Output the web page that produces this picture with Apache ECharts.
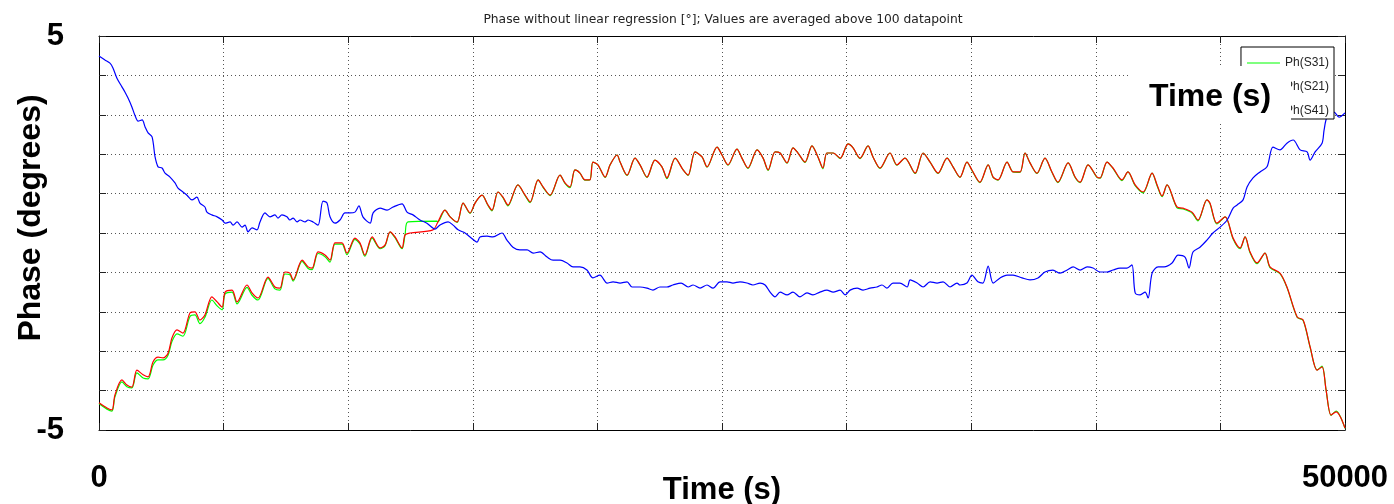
<!DOCTYPE html>
<html>
<head>
<meta charset="utf-8">
<title>Phase without linear regression</title>
<script src="https://cdn.jsdelivr.net/npm/echarts@6/dist/echarts.min.js"></script>
<style>
  html, body { margin: 0; padding: 0; background: #fff; }
  #chart { width: 1394px; height: 504px; }
</style>
</head>
<body>
<div id="chart"></div>
<script>
// Averaged phase traces (degrees) against time (seconds)
const timeS31 = [0,320,520,640,920,1120,1320,1520,1770,1970,2170,2370,2570,2770,2930,3130,3370,3650,3850,4050,4250,4530,4740,4940,5060,5340,5540,5940,6140,6380,6780,7060,7260,7460,7660,7790,8150,8390,8550,8790,9070,9270,9470,9750,9950,10270,10470,10670,10960,11280,11480,11680,11880,12160,12280,12400,13560,13600,13880,14090,14370,14610,14890,15090,15370,15610,15770,16010,16210,16410,16810,17100,17300,17620,17820,18100,18500,18700,18900,19100,19300,19500,19700,19820,20020,20310,20510,20790,20910,21190,21510,21710,21990,22310,22590,22790,23120,23440,23640,23920,24200,24400,24800,25000,25240,25600,25800,26040,26410,26650,26850,27130,27330,27610,27850,28050,28330,28610,28850,29050,29210,29460,29740,30060,30260,30540,30860,31060,31340,31740,32020,32340,32750,33070,33350,33670,34030,34270,34550,34830,35030,35350,35680,35880,36080,36440,36680,36960,37160,37360,37640,37960,38240,38480,38890,39170,39370,39690,40050,40170,40450,40690,41050,41290,41580,41900,42260,42460,42660,42860,43260,43500,43860,44100,44460,44580,44860,45190,45510,45790,45990,46190,46470,46790,46990,47390,47670,48080,48320,48600,48880,49080,49240,49440,49640,50000];
const phaseS31 = [-4.33,-4.47,-4.52,-4.16,-3.78,-3.90,-3.93,-3.55,-3.68,-3.70,-3.35,-3.22,-3.22,-3.10,-2.75,-2.56,-2.62,-2.12,-2.08,-2.30,-2.14,-1.70,-1.85,-1.95,-1.55,-1.50,-1.80,-1.38,-1.58,-1.70,-1.15,-1.42,-1.45,-1.04,-1.06,-1.22,-0.72,-0.90,-0.93,-0.52,-0.60,-0.74,-0.28,-0.28,-0.55,-0.16,-0.28,-0.59,-0.13,-0.40,-0.32,0.02,-0.12,-0.40,-0.05,0.28,0.30,0.28,0.58,0.41,0.27,0.76,0.50,0.76,0.96,0.70,0.56,1.04,0.90,0.69,1.22,0.95,0.77,1.35,1.16,0.95,1.47,1.26,1.15,1.60,1.52,1.34,1.35,1.80,1.73,1.41,1.73,1.98,1.80,1.46,1.90,1.73,1.41,1.85,1.68,1.38,1.90,1.60,1.46,2.06,1.93,1.67,2.18,1.98,1.72,2.13,1.90,1.64,2.11,1.90,1.59,2.06,2.03,1.77,2.16,2.03,1.79,2.21,1.93,1.63,2.03,2.03,1.89,2.26,2.16,1.89,2.21,1.93,1.64,2.03,1.72,1.90,1.51,2.03,1.80,1.51,1.90,1.68,1.41,1.80,1.59,1.28,1.73,1.41,1.34,1.80,1.55,1.54,2.03,1.78,1.51,1.90,1.54,1.28,1.78,1.41,1.28,1.73,1.41,1.39,1.80,1.64,1.33,1.55,1.20,1.02,1.52,1.20,0.92,1.22,0.64,0.61,0.51,0.31,0.84,0.75,0.23,0.41,-0.15,-0.40,-0.10,-0.50,-0.78,-0.51,-0.88,-1.03,-1.38,-2.14,-2.22,-2.90,-3.48,-3.38,-3.98,-4.63,-4.52,-4.96];

const timeS21 = [0,320,520,640,920,1120,1320,1520,1770,1970,2170,2370,2570,2770,2930,3130,3370,3650,3850,4050,4250,4530,4740,4940,5060,5340,5540,5940,6140,6380,6780,7060,7260,7460,7660,7790,8150,8390,8550,8790,9070,9270,9470,9750,9950,10270,10470,10670,10960,11280,11480,11680,11880,12160,12280,12480,13400,13600,13880,14090,14370,14610,14890,15090,15370,15610,15770,16010,16210,16410,16810,17100,17300,17620,17820,18100,18500,18700,18900,19100,19300,19500,19700,19820,20020,20310,20510,20790,20910,21190,21510,21710,21990,22310,22590,22790,23120,23440,23640,23920,24200,24400,24800,25000,25240,25600,25800,26040,26410,26650,26850,27130,27330,27610,27850,28050,28330,28610,28850,29050,29210,29460,29740,30060,30260,30540,30860,31060,31340,31740,32020,32340,32750,33070,33350,33670,34030,34270,34550,34830,35030,35350,35680,35880,36080,36440,36680,36960,37160,37360,37640,37960,38240,38480,38890,39170,39370,39690,40050,40170,40450,40690,41050,41290,41580,41900,42260,42460,42660,42860,43260,43500,43860,44100,44460,44580,44860,45190,45510,45790,45990,46190,46470,46790,46990,47390,47670,48080,48320,48600,48880,49080,49240,49440,49640,50000];
const phaseS21 = [-4.31,-4.44,-4.49,-4.11,-3.73,-3.86,-3.91,-3.48,-3.60,-3.65,-3.27,-3.15,-3.17,-3.05,-2.66,-2.46,-2.54,-2.03,-2.00,-2.21,-2.08,-1.62,-1.75,-1.88,-1.50,-1.45,-1.75,-1.32,-1.52,-1.65,-1.12,-1.37,-1.40,-0.99,-1.02,-1.19,-0.69,-0.86,-0.89,-0.48,-0.56,-0.69,-0.25,-0.25,-0.51,-0.13,-0.25,-0.56,-0.10,-0.38,-0.30,0.03,-0.10,-0.38,-0.05,0.00,0.08,0.28,0.58,0.41,0.28,0.76,0.51,0.76,0.96,0.71,0.58,1.04,0.91,0.71,1.22,0.96,0.79,1.35,1.17,0.96,1.47,1.27,1.17,1.60,1.52,1.35,1.35,1.80,1.73,1.42,1.73,1.98,1.80,1.47,1.90,1.73,1.42,1.85,1.68,1.40,1.90,1.60,1.47,2.06,1.93,1.68,2.18,1.98,1.73,2.13,1.90,1.65,2.11,1.90,1.60,2.06,2.03,1.78,2.16,2.03,1.80,2.21,1.93,1.65,2.03,2.03,1.90,2.26,2.16,1.90,2.21,1.93,1.65,2.03,1.73,1.90,1.52,2.03,1.80,1.52,1.90,1.68,1.42,1.80,1.60,1.29,1.73,1.42,1.35,1.80,1.55,1.55,2.03,1.78,1.52,1.90,1.55,1.29,1.78,1.42,1.29,1.73,1.42,1.40,1.80,1.65,1.35,1.55,1.22,1.04,1.52,1.22,0.94,1.22,0.66,0.63,0.53,0.33,0.84,0.76,0.25,0.41,-0.13,-0.38,-0.10,-0.48,-0.76,-0.51,-0.86,-1.02,-1.37,-2.13,-2.21,-2.89,-3.48,-3.40,-3.98,-4.62,-4.54,-4.95];

const timeS41 = [0,240,440,560,720,920,1040,1160,1320,1440,1570,1730,1850,1970,2130,2250,2370,2530,2650,2850,3050,3170,3370,3530,3730,3930,4050,4250,4330,4530,4740,4940,5060,5260,5380,5540,5740,5860,5980,6140,6340,6460,6660,6860,7060,7180,7340,7540,7660,7790,7950,8070,8270,8390,8590,8790,8990,9150,9270,9470,9670,9870,10070,10270,10430,10590,10880,11000,11280,11560,11800,12160,12360,12600,12880,13160,13480,13680,14010,14210,14410,14690,14890,15170,15290,15570,15810,16170,16370,16610,16890,17180,17420,17700,17980,18220,18500,18780,19020,19300,19580,19820,20100,20390,20630,20910,21190,21390,21710,21990,22230,22510,22790,23030,23360,23640,23840,24120,24400,24640,24920,25200,25440,25720,26000,26240,26530,26730,26930,27130,27330,27610,27850,28130,28410,28650,28930,29210,29460,29740,29940,30140,30420,30660,30940,31220,31420,31620,31860,32140,32430,32550,32830,33070,33350,33630,33870,34150,34430,34550,34830,35030,35270,35470,35680,35880,36160,36440,36680,37040,37360,37680,37960,38280,38560,38850,39090,39370,39650,39890,40170,40450,40690,40970,41250,41450,41580,41780,41980,42100,42260,42500,42740,43060,43300,43580,43740,43900,44180,44460,44700,44990,45270,45510,45670,45910,46070,46310,46590,46870,47110,47390,47670,47920,48200,48480,48600,48800,49080,49160,49280,49560,49760,50000];
const phaseS41 = [4.49,4.39,4.31,4.19,3.93,3.71,3.58,3.43,3.20,2.99,2.84,2.87,2.69,2.54,2.44,1.93,1.68,1.65,1.52,1.42,1.27,1.14,1.04,0.96,0.84,0.91,0.76,0.66,0.53,0.46,0.41,0.33,0.25,0.28,0.20,0.28,0.15,0.20,0.03,0.13,0.08,0.28,0.51,0.41,0.46,0.38,0.46,0.41,0.33,0.38,0.28,0.33,0.28,0.33,0.28,0.20,0.81,0.76,0.41,0.25,0.33,0.51,0.51,0.53,0.69,0.41,0.25,0.51,0.63,0.58,0.66,0.74,0.53,0.46,0.33,0.25,0.10,0.20,0.28,0.20,0.08,0.00,-0.10,-0.23,-0.10,-0.08,-0.10,0.00,-0.18,-0.36,-0.43,-0.43,-0.51,-0.48,-0.61,-0.69,-0.69,-0.76,-0.86,-0.86,-0.94,-1.14,-1.07,-1.27,-1.24,-1.27,-1.24,-1.37,-1.37,-1.40,-1.45,-1.37,-1.37,-1.32,-1.27,-1.37,-1.32,-1.40,-1.32,-1.40,-1.24,-1.24,-1.27,-1.24,-1.27,-1.32,-1.27,-1.32,-1.50,-1.62,-1.50,-1.57,-1.50,-1.62,-1.52,-1.57,-1.50,-1.45,-1.50,-1.45,-1.57,-1.45,-1.40,-1.45,-1.40,-1.37,-1.32,-1.40,-1.27,-1.27,-1.37,-1.19,-1.27,-1.37,-1.24,-1.27,-1.24,-1.37,-1.27,-1.32,-1.27,-1.07,-1.24,-1.27,-0.84,-1.27,-1.14,-1.07,-1.07,-1.14,-1.19,-1.14,-0.99,-0.94,-1.02,-0.94,-0.86,-0.94,-0.86,-0.89,-0.99,-0.99,-0.94,-0.89,-0.89,-0.81,-1.52,-1.57,-1.50,-1.65,-1.02,-0.86,-0.86,-0.76,-0.56,-0.61,-0.89,-0.48,-0.36,-0.18,0.00,0.15,0.33,0.63,0.71,0.84,1.17,1.40,1.55,1.68,2.18,2.11,2.28,2.36,2.11,2.06,1.85,2.06,2.28,2.61,2.94,3.07,2.94,3.05];

const seriesNames = ['Ph(S31)', 'Ph(S21)', 'Ph(S41)'];
const seriesColors = ['#00ff00', '#ff0000', '#0000ff'];
const xTickLabels = [0, 50000];
const yTickLabels = [-5, 5];

function pairs(t, v) {
  return t.map((x, i) => [x, v[i]]);
}

const bigFamily = '"Liberation Sans", Arial, sans-serif';
const bigFont = 'bold 32px "Liberation Sans", Arial, sans-serif';
const gridLine = { show: true, lineStyle: { color: '#555', type: [1, 3], width: 1 } };

const chart = echarts.init(document.getElementById('chart'), null, { renderer: 'canvas' });

function baseX(extra) {
  return Object.assign({
    type: 'value', min: 0, max: 50000, interval: 5000,
    axisLine: { show: true, onZero: false, lineStyle: { color: '#000', width: 1 } },
    axisTick: { show: true, inside: true, length: 7, lineStyle: { color: '#222' } },
    splitLine: { show: false },
    axisLabel: { show: false }
  }, extra);
}
function baseY(extra) {
  return Object.assign({
    type: 'value', min: -5, max: 5, interval: 1,
    axisLine: { show: true, onZero: false, lineStyle: { color: '#000', width: 1 } },
    axisTick: { show: true, inside: true, length: 7, lineStyle: { color: '#222' } },
    splitLine: { show: false },
    axisLabel: { show: false }
  }, extra);
}

function trace(i, t, v, z) {
  return {
    name: seriesNames[i], type: 'line', data: pairs(t, v),
    symbol: 'none', smooth: 0.3, color: seriesColors[i],
    lineStyle: { width: 1.2, color: seriesColors[i] }, z: z
  };
}

chart.setOption({
  animation: false,
  backgroundColor: '#fff',
  title: {
    text: 'Phase without linear regression [°]; Values are averaged above 100 datapoint',
    left: 718, top: 9, textAlign: 'center',
    textStyle: { fontSize: 12.3, fontWeight: 'normal', color: '#222', fontFamily: '"DejaVu Sans", Verdana, sans-serif' }
  },
  grid: { left: 99, right: 49, top: 36, bottom: 74, containLabel: false, outerBoundsMode: 'none' },
  legend: {
    orient: 'vertical', right: 60, top: 47,
    data: seriesNames.map(n => ({ name: n, icon: 'rect' })),
    backgroundColor: '#fff', borderColor: '#000', borderWidth: 1, borderRadius: 0,
    padding: [9, 5, 1, 6], itemGap: 10, itemWidth: 33, itemHeight: 1,
    textStyle: { fontSize: 12, lineHeight: 14, color: '#222', fontFamily: '"Liberation Sans", Arial, sans-serif' },
    z: 5
  },
  xAxis: [
    baseX({
      position: 'bottom',
      splitLine: gridLine,
      axisLabel: {
        show: true, margin: 33, showMinLabel: true, showMaxLabel: true,
        color: '#000', fontSize: 31, fontWeight: 'bold', fontFamily: bigFamily,
        formatter: v => (xTickLabels.indexOf(v) >= 0 ? String(v) : '')
      },
      name: 'Time (s)', nameLocation: 'middle', nameGap: 45, nameMoveOverlap: false,
      nameTextStyle: { color: '#000', fontSize: 31, fontWeight: 'bold', fontFamily: bigFamily }
    }),
    baseX({ position: 'top' })
  ],
  yAxis: [
    baseY({
      position: 'left',
      splitLine: gridLine,
      axisLabel: {
        show: true, margin: 35, showMinLabel: true, showMaxLabel: true,
        color: '#000', fontSize: 31, fontWeight: 'bold', fontFamily: bigFamily,
        formatter: v => (yTickLabels.indexOf(v) >= 0 ? String(v) : '')
      }
    }),
    baseY({ position: 'right' })
  ],
  graphic: [
    {
      type: 'text', x: 31, y: 218, rotation: Math.PI / 2, z: 100,
      style: { text: 'Phase (degrees)', font: bigFont, fill: '#000', align: 'center', verticalAlign: 'middle' }
    },
    {
      type: 'group', z: 100,
      children: [
        { type: 'rect', shape: { x: 1130, y: 66, width: 161, height: 55 }, style: { fill: '#fff' }, z: 100 },
        { type: 'text', x: 1210, y: 97, z: 101,
          style: { text: 'Time (s)', font: bigFont, fill: '#000', align: 'center', verticalAlign: 'middle' } }
      ]
    }
  ],
  series: [
    trace(0, timeS31, phaseS31, 2),
    trace(1, timeS21, phaseS21, 3),
    trace(2, timeS41, phaseS41, 4)
  ]
});
</script>
</body>
</html>
